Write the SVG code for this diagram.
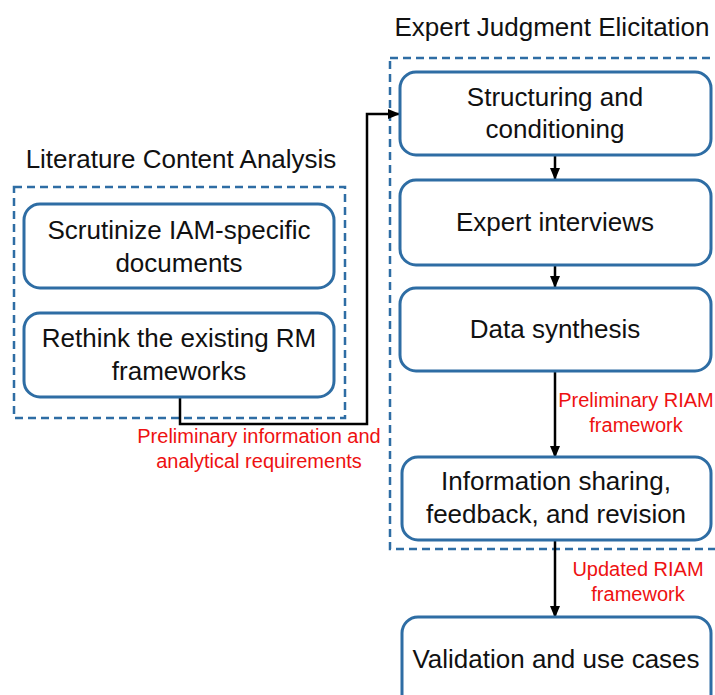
<svg xmlns="http://www.w3.org/2000/svg" width="715" height="695" viewBox="0 0 715 695">
<defs>
<style>
.node{fill:#fff;stroke:#2E6DA4;stroke-width:3}
.grp{fill:none;stroke:#2E6DA4;stroke-width:2.5;stroke-dasharray:8,5}
.t{font-family:"Liberation Sans",Arial,sans-serif;font-size:26px;fill:#111;text-anchor:middle}
.r{font-family:"Liberation Sans",Arial,sans-serif;font-size:20px;fill:#EE1111;text-anchor:middle}
.c{fill:none;stroke:#000;stroke-width:2.5}
</style>
<marker id="ah" markerUnits="userSpaceOnUse" markerWidth="12" markerHeight="12" refX="11" refY="5" orient="auto" viewBox="0 0 12 10">
<path d="M0,0 L12,5 L0,10 z" fill="#000"/>
</marker>
</defs>
<rect width="715" height="695" fill="#fff"/>
<g id="group-literature">
<rect class="grp" x="14" y="187" width="331" height="231"/>
<text class="t" x="181" y="168">Literature Content Analysis</text>
</g>
<g id="group-expert">
<rect class="grp" x="390" y="58" width="340" height="491"/>
<text class="t" x="552" y="36">Expert Judgment Elicitation</text>
</g>
<g id="connectors">
<path class="c" d="M180,397 V424 H367 V114 H399" marker-end="url(#ah)"/>
<path class="c" d="M555,155 V179" marker-end="url(#ah)"/>
<path class="c" d="M555,265 V287" marker-end="url(#ah)"/>
<path class="c" d="M555,371 V457" marker-end="url(#ah)"/>
<path class="c" d="M555,540 V617" marker-end="url(#ah)"/>
<text class="r" x="259" y="443">Preliminary information and</text>
<text class="r" x="259" y="468">analytical requirements</text>
<text class="r" x="636" y="407">Preliminary RIAM</text>
<text class="r" x="636" y="432">framework</text>
<text class="r" x="638" y="576">Updated RIAM</text>
<text class="r" x="638" y="601">framework</text>
</g>
<g id="node-scrutinize">
<rect class="node" x="24" y="204" width="310" height="84" rx="16"/>
<text class="t" x="179" y="239">Scrutinize IAM-specific</text>
<text class="t" x="179" y="272">documents</text>
</g>
<g id="node-rethink">
<rect class="node" x="24" y="313" width="310" height="84" rx="16"/>
<text class="t" x="179" y="347">Rethink the existing RM</text>
<text class="t" x="179" y="380">frameworks</text>
</g>
<g id="node-structuring">
<rect class="node" x="400" y="72" width="311" height="83" rx="16"/>
<text class="t" x="555" y="106">Structuring and</text>
<text class="t" x="555" y="138">conditioning</text>
</g>
<g id="node-interviews">
<rect class="node" x="400" y="180" width="311" height="85" rx="16"/>
<text class="t" x="555" y="231">Expert interviews</text>
</g>
<g id="node-synthesis">
<rect class="node" x="400" y="288" width="311" height="83" rx="16"/>
<text class="t" x="555" y="338">Data synthesis</text>
</g>
<g id="node-sharing">
<rect class="node" x="402" y="457" width="309" height="83" rx="16"/>
<text class="t" x="556" y="490">Information sharing,</text>
<text class="t" x="556" y="523">feedback, and revision</text>
</g>
<g id="node-validation">
<rect class="node" x="402" y="617" width="309" height="100" rx="16"/>
<text class="t" x="556" y="668">Validation and use cases</text>
</g>
</svg>
